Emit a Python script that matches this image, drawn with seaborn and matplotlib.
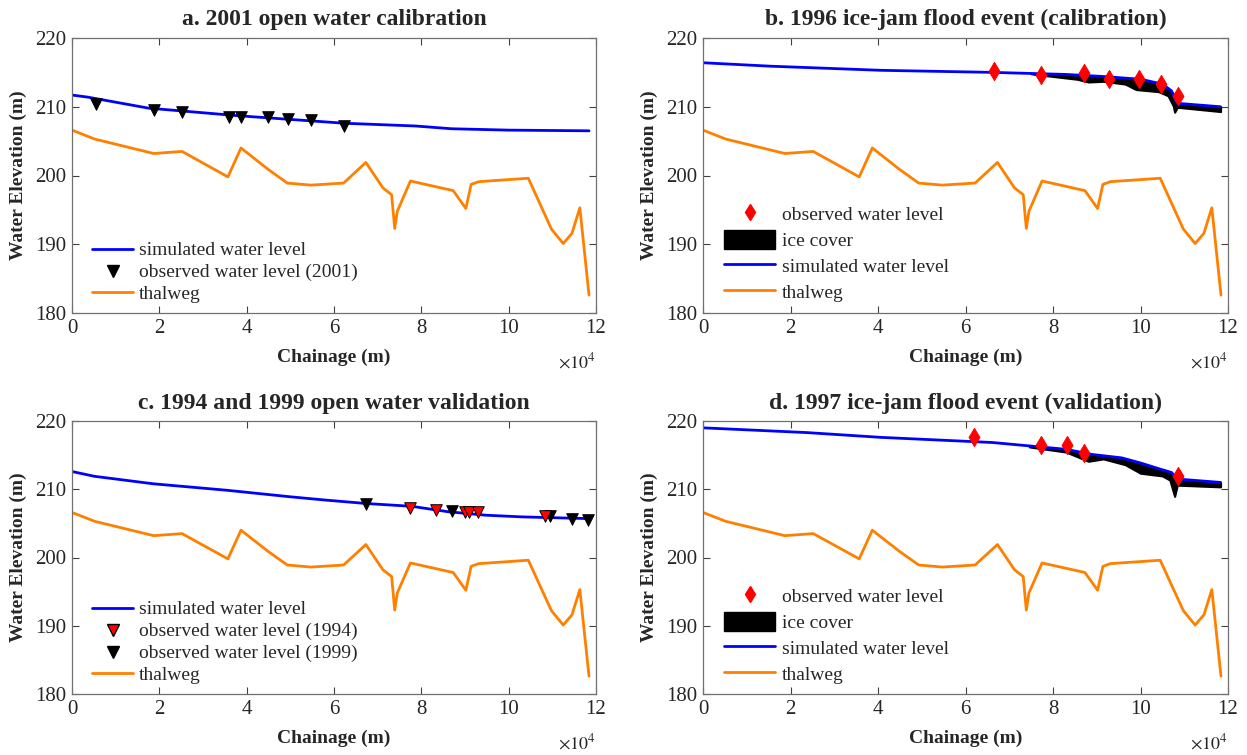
import matplotlib
matplotlib.use('Agg')
import matplotlib.pyplot as plt
import seaborn as sns
from matplotlib.lines import Line2D
from matplotlib.patches import Patch
from matplotlib.ticker import FuncFormatter

sns.set_theme(style='ticks')
plt.rcParams['font.family'] = ['Liberation Serif', 'DejaVu Serif']
plt.rcParams['mathtext.fontset'] = 'stix'

BLUE = '#0000ff'
ORANGE = '#ff8000'

# river bed (same reach in every panel)
thalweg_x = [0, 5200, 18700, 25200, 35700, 38700, 44900, 49300, 54700, 62200,
             67300, 71200, 73200, 73900, 74500, 77500, 87300, 90200, 91400, 93100,
             104500, 109800, 112500, 114500, 116300, 118400]
thalweg_y = [206.6, 205.3, 203.2, 203.5, 199.8, 204.0, 200.9, 198.9, 198.6, 198.9,
             201.9, 198.2, 197.2, 192.3, 194.8, 199.2, 197.8, 195.2, 198.7, 199.1,
             199.6, 192.2, 190.1, 191.6, 195.3, 182.6]

# a. 2001 open water
sim_a_x = [0, 3600, 17500, 37900, 62400, 78700, 86900, 99900, 118400]
sim_a_y = [211.7, 211.4, 209.8, 208.7, 207.6, 207.2, 206.8, 206.6, 206.5]
obs2001_x = [5500, 18700, 25100, 35900, 38700, 44900, 49500, 54700, 62200]
obs2001_y = [210.4, 209.5, 209.2, 208.5, 208.5, 208.5, 208.2, 208.1, 207.2]

# b. 1996 ice jam
sim_b_x = [0, 15400, 40700, 66100, 83000, 91500, 100000, 105000, 107100, 108000, 108400, 118300]
sim_b_y = [216.4, 215.9, 215.3, 215.0, 214.7, 214.4, 214.0, 213.3, 212.3, 210.9, 210.5, 210.0]
ice_b_x = [75000, 78800, 85500, 88100, 91500, 96500, 99000, 104100, 106300, 107500, 107800,
           108400, 108800, 118300]
ice_b_top = [214.85, 214.7, 214.55, 214.45, 214.35, 214.15, 214.0, 213.4, 212.7, 211.9, 211.6,
             210.5, 210.45, 210.0]
ice_b_bot = [214.8, 214.5, 214.0, 213.6, 213.7, 213.3, 212.5, 212.2, 211.6, 210.1, 209.2,
             209.9, 209.9, 209.3]
obs_b_x = [66400, 77300, 87100, 92700, 99700, 104600, 108500]
obs_b_y = [215.2, 214.6, 214.95, 214.0, 214.0, 213.3, 211.6]

# c. 1994 / 1999 open water
sim_c_x = [0, 5100, 18600, 35500, 49900, 54900, 58300, 67600, 77800, 86200, 94700, 103100, 118300]
sim_c_y = [212.6, 211.9, 210.8, 209.85, 208.9, 208.6, 208.4, 207.9, 207.5, 206.7, 206.2, 205.95, 205.7]
obs1994_x = [77300, 83300, 89900, 90900, 93000, 108400]
obs1994_y = [207.2, 206.9, 206.7, 206.7, 206.6, 206.1]
obs1999_x = [67300, 87100, 109500, 114400, 118200]
obs1999_y = [207.8, 206.8, 206.1, 205.6, 205.5]

# d. 1997 ice jam
sim_d_x = [0, 23800, 40700, 66100, 74600, 83000, 88900, 95700, 100000, 105000, 107100, 108400, 118300]
sim_d_y = [219.0, 218.3, 217.6, 216.85, 216.35, 215.85, 215.1, 214.6, 213.85, 212.85, 212.45, 211.5, 211.0]
ice_d_x = [74600, 83000, 88100, 91500, 96500, 100000, 105000, 106700, 107500, 107800, 108400, 118300]
ice_d_top = [216.35, 215.85, 215.1, 214.85, 214.45, 213.85, 212.85, 212.55, 212.2, 212.0, 211.5, 211.0]
ice_d_bot = [216.2, 215.45, 214.1, 214.45, 213.6, 212.35, 211.95, 211.35, 209.6, 208.95, 210.6, 210.35]
obs_d_x = [61900, 77300, 83200, 87100, 108600]
obs_d_y = [217.6, 216.5, 216.45, 215.25, 211.95]

W, H = 1247, 755
fig = plt.figure(figsize=(W / 100, H / 100), dpi=100)


def make_ax(l, r, t, b):
    return fig.add_axes([l / W, 1 - b / H, (r - l) / W, (b - t) / H])


def style(ax, title):
    ax.set_xlim(0, 120000)
    ax.set_ylim(180, 220)
    ax.set_xticks(range(0, 120001, 20000))
    ax.set_yticks(range(180, 221, 10))
    ax.xaxis.set_major_formatter(FuncFormatter(lambda v, p: f'{v / 1e4:g}'))
    ax.tick_params(direction='in', top=True, right=True, length=5, width=0.8,
                   labelsize=15, color='#404040', pad=4)
    for s in ax.spines.values():
        s.set_color('#707070')
        s.set_linewidth(0.9)
    ax.set_title(title, fontsize=17, fontweight='bold', pad=9)
    ax.set_xlabel('Chainage (m)', fontsize=14, fontweight='bold', labelpad=8)
    ax.set_ylabel('Water Elevation (m)', fontsize=14, fontweight='bold', labelpad=6)
    ax.annotate(r'$\times10^{4}$', xy=(1.0, 0.0), xycoords='axes fraction',
                xytext=(0, -35), textcoords='offset points', ha='right', va='center', fontsize=13)


sim_h = Line2D([], [], color=BLUE, lw=2)
thal_h = Line2D([], [], color=ORANGE, lw=2)
ice_h = Patch(facecolor='black', edgecolor='black')
dia_h = Line2D([], [], color='red', marker='d', ls='none', markersize=8)
tri_k = Line2D([], [], color='black', marker='v', ls='none', markersize=8)
tri_r = Line2D([], [], color='red', markeredgecolor='black', marker='v', ls='none', markersize=8)

open_kw = dict(loc='lower left', bbox_to_anchor=(0.02, 0.0), frameon=False, fontsize=14,
               handlelength=2.1, handletextpad=0.3, labelspacing=0.22, borderpad=0)
ice_kw = dict(loc='upper left', bbox_to_anchor=(0.022, 0.43), frameon=False, fontsize=14,
              handlelength=2.6, handleheight=1.1, handletextpad=0.35, labelspacing=0.3, borderpad=0)

# ---- a
ax = make_ax(72, 596, 38, 313)
sns.lineplot(x=thalweg_x, y=thalweg_y, color=ORANGE, lw=2, ax=ax)
sns.lineplot(x=sim_a_x, y=sim_a_y, color=BLUE, lw=2, ax=ax)
sns.scatterplot(x=obs2001_x, y=obs2001_y, marker='v', color='black', edgecolor='black', s=70, ax=ax, zorder=5)
style(ax, 'a. 2001 open water calibration')
ax.legend([sim_h, tri_k, thal_h],
          ['simulated water level', 'observed water level (2001)', 'thalweg'], **open_kw)

# ---- b
ax = make_ax(703, 1228, 38, 313)
sns.lineplot(x=thalweg_x, y=thalweg_y, color=ORANGE, lw=2, ax=ax)
ax.fill_between(ice_b_x, ice_b_bot, ice_b_top, color='black', lw=1.5, edgecolor='black')
sns.lineplot(x=sim_b_x, y=sim_b_y, color=BLUE, lw=2, ax=ax)
sns.scatterplot(x=obs_b_x, y=obs_b_y, marker='d', color='red', edgecolor='red', s=85, ax=ax, zorder=5)
style(ax, 'b. 1996 ice-jam flood event (calibration)')
ax.legend([dia_h, ice_h, sim_h, thal_h],
          ['observed water level', 'ice cover', 'simulated water level', 'thalweg'], **ice_kw)

# ---- c
ax = make_ax(72, 596, 421, 694)
sns.lineplot(x=thalweg_x, y=thalweg_y, color=ORANGE, lw=2, ax=ax)
sns.lineplot(x=sim_c_x, y=sim_c_y, color=BLUE, lw=2, ax=ax)
sns.scatterplot(x=obs1999_x, y=obs1999_y, marker='v', color='black', edgecolor='black', s=70, ax=ax, zorder=5)
sns.scatterplot(x=obs1994_x, y=obs1994_y, marker='v', color='red', edgecolor='black', s=70, ax=ax, zorder=6)
style(ax, 'c. 1994 and 1999 open water validation')
ax.legend([sim_h, tri_r, tri_k, thal_h],
          ['simulated water level', 'observed water level (1994)', 'observed water level (1999)', 'thalweg'],
          **open_kw)

# ---- d
ax = make_ax(703, 1228, 421, 694)
sns.lineplot(x=thalweg_x, y=thalweg_y, color=ORANGE, lw=2, ax=ax)
ax.fill_between(ice_d_x, ice_d_bot, ice_d_top, color='black', lw=1.5, edgecolor='black')
sns.lineplot(x=sim_d_x, y=sim_d_y, color=BLUE, lw=2, ax=ax)
sns.scatterplot(x=obs_d_x, y=obs_d_y, marker='d', color='red', edgecolor='red', s=85, ax=ax, zorder=5)
style(ax, 'd. 1997 ice-jam flood event (validation)')
ax.legend([dia_h, ice_h, sim_h, thal_h],
          ['observed water level', 'ice cover', 'simulated water level', 'thalweg'], **ice_kw)

fig.savefig('out.png', dpi=100)
